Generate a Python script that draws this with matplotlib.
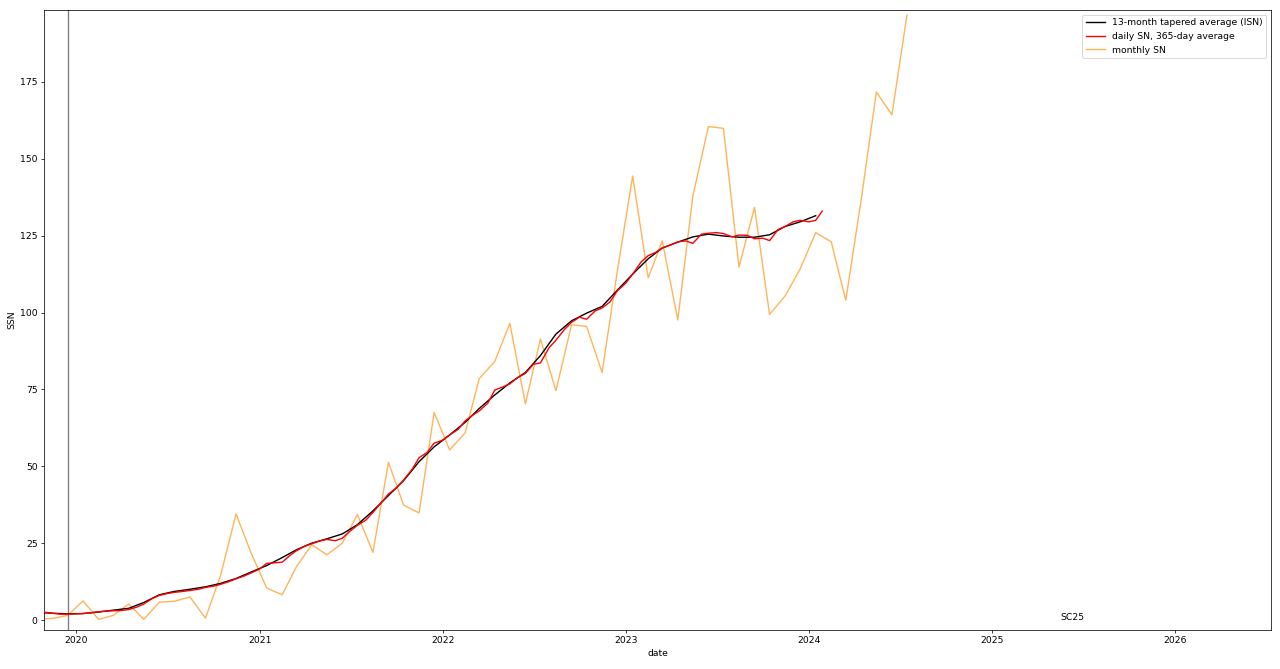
import matplotlib
matplotlib.use("Agg")
import matplotlib.pyplot as plt
import matplotlib.dates as mdates
import numpy as np
import pandas as pd

# ------------------------------------------------------------
# Data
# ------------------------------------------------------------

# monthly SN, Oct 2019 .. Jul 2024 (plotted at mid-month)
monthly_start = "2019-10-01"
monthly_sn = [
    0.4, 0.5, 1.5,
    6.2, 0.2, 1.5, 5.2, 0.2, 5.8, 6.1, 7.5, 0.6, 14.4, 34.5, 21.8,
    10.4, 8.2, 17.2, 24.5, 21.2, 25.0, 34.3, 22.0, 51.3, 37.4, 34.8, 67.5,
    55.3, 60.9, 78.5, 84.1, 96.5, 70.3, 91.4, 74.6, 96.0, 95.5, 80.5, 113.1,
    144.4, 111.3, 123.3, 97.6, 137.9, 160.5, 159.9, 114.8, 134.2, 99.4, 105.4, 114.2,
    126.0, 123.0, 104.0, 137.0, 171.7, 164.3, 196.8,
]

# 13-month tapered average, Oct 2019 .. Jan 2024 (mid-month)
smoothed_start = "2019-10-01"
smoothed_sn = [
    2.5, 2.2, 2.0,
    2.1, 2.6, 3.2, 3.8, 5.7, 8.2, 9.3, 10.0, 10.8, 11.9, 13.5, 15.6,
    17.7, 20.3, 22.8, 25.0, 26.4, 28.0, 31.0, 35.5, 40.5, 45.3, 51.5, 56.3,
    60.2, 64.3, 68.8, 73.2, 77.1, 80.5, 86.0, 93.0, 97.3, 99.8, 102.0, 107.2,
    112.5, 117.5, 121.0, 122.9, 124.6, 125.5, 124.9, 124.5, 124.5, 125.3, 128.0, 129.5,
    131.5,
]

# daily SN, 365-day running average, sampled twice a month (1st / 15th)
daily_avg_start = "2019-10-15"
daily_avg_stop = "2024-01-15"
daily_avg_end_date = "2024-01-28"
daily_avg_sn = [
    2.7,
    2.5, 2.2, 1.9, 1.9,
    # 2020
    2.0, 2.1, 2.4, 2.7, 2.9, 3.0, 3.1, 3.4, 4.2, 5.2, 7.0, 8.0,
    8.6, 9.0, 9.3, 9.6, 10.0, 10.6, 11.0, 11.6, 12.5, 13.4, 14.3, 15.3,
    # 2021
    16.6, 18.4, 18.6, 18.8, 20.8, 22.5, 24.0, 24.8, 25.7, 26.2, 25.8, 26.6,
    29.0, 30.8, 32.5, 35.0, 38.2, 41.0, 43.0, 45.5, 49.0, 52.8, 54.5, 57.5,
    # 2022
    58.5, 60.2, 62.0, 64.8, 66.5, 68.0, 70.5, 74.8, 75.8, 76.8, 79.0, 80.2,
    83.2, 83.6, 88.5, 91.0, 94.5, 96.8, 98.5, 97.8, 100.5, 101.5, 103.5, 107.0,
    # 2023
    109.5, 112.5, 116.5, 118.5, 119.5, 121.0, 122.0, 123.0, 123.3, 122.5, 125.5, 125.8,
    126.0, 125.7, 124.6, 125.2, 125.1, 124.0, 124.2, 123.4, 127.0, 128.0, 129.5, 130.0,
    # 2024
    129.5, 130.0,
    133.0,
]

cycle_min_date = "2019-12-15"
cycle_label = "SC25"
cycle_label_date = "2025-06-10"

# ------------------------------------------------------------
# Dates
# ------------------------------------------------------------

monthly_dates = pd.date_range(monthly_start, periods=len(monthly_sn), freq="MS") + pd.Timedelta(days=14)
smoothed_dates = pd.date_range(smoothed_start, periods=len(smoothed_sn), freq="MS") + pd.Timedelta(days=14)
daily_avg_dates = pd.date_range(daily_avg_start, daily_avg_stop, freq="SMS").append(
    pd.DatetimeIndex([daily_avg_end_date])
)
assert len(daily_avg_dates) == len(daily_avg_sn)

# ------------------------------------------------------------
# Plot
# ------------------------------------------------------------

# big figure saved at a low dpi, like the original
DPI = 200 / 3
fig = plt.figure(figsize=(1280 / DPI, 669 / DPI), dpi=DPI)
ax = fig.add_axes([44 / 1280, 1 - 630 / 669, (1271 - 44) / 1280, 620 / 669])

ax.plot(smoothed_dates, smoothed_sn, color="black", linewidth=1.5,
        label="13-month tapered average (ISN)", zorder=3)
ax.plot(daily_avg_dates, daily_avg_sn, color="red", linewidth=1.5,
        label="daily SN, 365-day average", zorder=4)
ax.plot(monthly_dates, monthly_sn, color="darkorange", alpha=0.65, linewidth=1.5,
        label="monthly SN", zorder=2)

ax.axvline(pd.Timestamp(cycle_min_date), color="grey", linewidth=1.5)
ax.text(pd.Timestamp(cycle_label_date), 0, cycle_label, ha="center")

ax.set_xlim(pd.Timestamp("2019-10-29"), pd.Timestamp("2026-07-11"))
ax.set_ylim(-3.25, 198.4)
ax.set_yticks(np.arange(0, 176, 25))
ax.xaxis.set_major_locator(mdates.YearLocator())
ax.xaxis.set_major_formatter(mdates.DateFormatter("%Y"))

ax.set_xlabel("date")
ax.set_ylabel("SSN")
ax.legend(loc="upper right")

fig.savefig("out.png", dpi=DPI)
